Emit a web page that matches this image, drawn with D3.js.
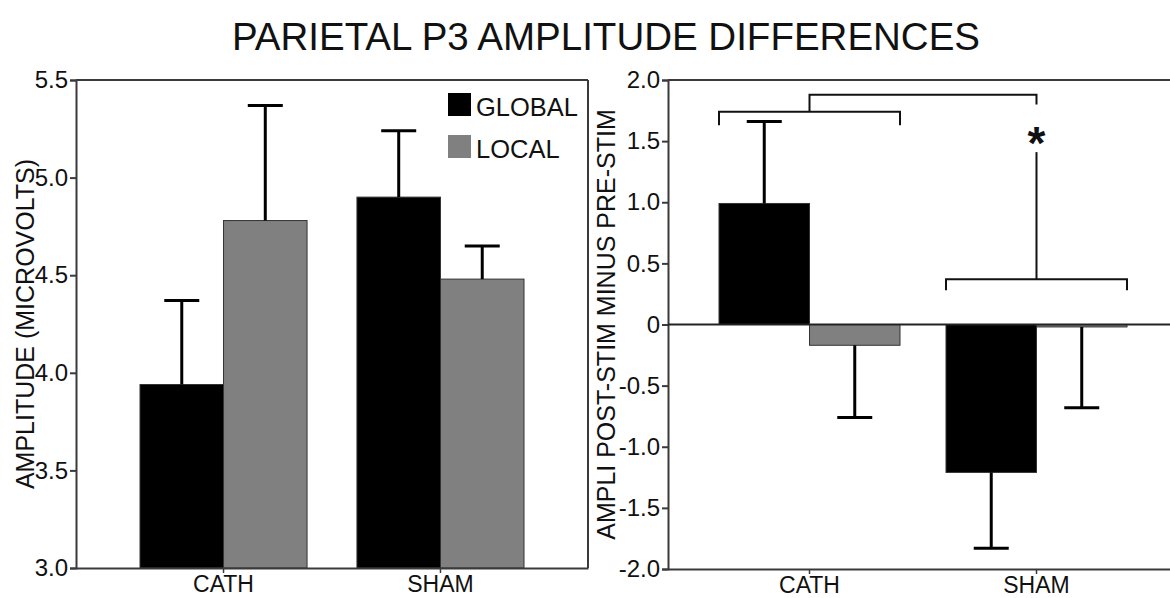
<!DOCTYPE html>
<html>
<head>
<meta charset="utf-8">
<script src="https://cdn.jsdelivr.net/npm/d3@7"></script>
<style>
  html, body { margin: 0; padding: 0; background: #fff; }
  svg { display: block; font-family: "Liberation Sans", Arial, Helvetica, sans-serif; }
</style>
</head>
<body>
<svg id="chart" width="1170" height="598"></svg>
<script>
// ---- Data ----
const categories = ["CATH", "SHAM"];
const seriesNames = ["GLOBAL", "LOCAL"];
// Left panel: amplitude (microvolts)
const ampGlobal = [3.94, 4.90];
const ampGlobalErr = [0.43, 0.34];
const ampLocal = [4.78, 4.48];
const ampLocalErr = [0.59, 0.17];
// Right panel: post-stim minus pre-stim
const diffGlobal = [0.99, -1.21];
const diffGlobalErr = [0.67, 0.62];
const diffLocal = [-0.17, -0.02];
const diffLocalErr = [0.59, 0.66];
// Tick labels
const leftTicks = ["3.0", "3.5", "4.0", "4.5", "5.0", "5.5"];
const rightTicks = ["-2.0", "-1.5", "-1.0", "-0.5", "0", "0.5", "1.0", "1.5", "2.0"];
// Significance annotation levels (data units, right panel)
const bracketLevels = [1.74, 0.37];
const bracketLegs = [1.63, 0.28];
const connectorTop = 1.88;
const connectorEnd = 1.80;
const starLevel = 1.57;
const starLineTop = 1.41;

const title = "PARIETAL P3 AMPLITUDE DIFFERENCES";
const leftYTitle = "AMPLITUDE (MICROVOLTS)";
const rightYTitle = "AMPLI POST-STIM MINUS PRE-STIM";

const colors = { GLOBAL: "#000000", LOCAL: "#808080" };
const axisColor = "#3a3a3a";
const textColor = "#111";

const svg = d3.select("#chart");
svg.append("rect").attr("width", 1170).attr("height", 598).attr("fill", "#fff");

svg.append("text")
  .attr("x", 606).attr("y", 50)
  .attr("text-anchor", "middle")
  .attr("font-size", 38.5)
  .attr("fill", textColor)
  .text(title);

function panel(opts) {
  const { x0, x1, yTop, yBot, domain, tickLabels, globalVals, globalErr, localVals, localErr,
          padInner, padOuter, yTitle, yTitleX, frameRight, zeroLine } = opts;
  const g = svg.append("g");
  const x = d3.scaleBand().domain(categories).range([x0, x1]).paddingInner(padInner).paddingOuter(padOuter);
  const xs = d3.scaleBand().domain(seriesNames).range([0, x.bandwidth()]);
  const y = d3.scaleLinear().domain(domain).range([yBot, yTop]);
  const base = zeroLine ? 0 : domain[0];

  const rows = [];
  categories.forEach((c, i) => {
    rows.push({ cat: c, s: "GLOBAL", v: globalVals[i], e: globalErr[i] });
    rows.push({ cat: c, s: "LOCAL", v: localVals[i], e: localErr[i] });
  });

  // bars
  g.selectAll("rect.bar").data(rows).join("rect")
    .attr("class", "bar")
    .attr("x", d => x(d.cat) + xs(d.s))
    .attr("width", xs.bandwidth())
    .attr("y", d => Math.min(y(d.v), y(base)))
    .attr("height", d => Math.abs(y(d.v) - y(base)))
    .attr("fill", d => colors[d.s])
    .attr("stroke", "#333")
    .attr("stroke-width", 1);

  // error bars (one-sided, away from zero)
  const capW = 35;
  rows.forEach(d => {
    const cx = x(d.cat) + xs(d.s) + xs.bandwidth() / 2;
    const end = d.v >= base ? d.v + d.e : d.v - d.e;
    g.append("line").attr("x1", cx).attr("x2", cx).attr("y1", y(d.v)).attr("y2", y(end))
      .attr("stroke", "#000").attr("stroke-width", 3);
    g.append("line").attr("x1", cx - capW / 2).attr("x2", cx + capW / 2).attr("y1", y(end)).attr("y2", y(end))
      .attr("stroke", "#000").attr("stroke-width", 3);
  });

  // y axis
  const yAxis = d3.axisLeft(y)
    .tickValues(tickLabels.map(Number))
    .tickFormat((d, i) => tickLabels[i])
    .tickSize(6).tickPadding(2);
  const ya = g.append("g").attr("transform", `translate(${x0},0)`).call(yAxis);
  ya.select(".domain").attr("stroke", axisColor).attr("stroke-width", 2);
  ya.selectAll(".tick line").attr("stroke", axisColor).attr("stroke-width", 2);
  ya.selectAll(".tick text").attr("font-size", 24).attr("fill", textColor)
    .attr("font-family", "Liberation Sans, Arial, sans-serif");

  // x axis at bottom
  const xAxis = d3.axisBottom(x).tickSize(5).tickPadding(3).tickSizeOuter(0);
  const xa = g.append("g").attr("transform", `translate(0,${yBot})`).call(xAxis);
  xa.select(".domain").attr("stroke", axisColor).attr("stroke-width", 2);
  xa.selectAll(".tick line").attr("stroke", axisColor).attr("stroke-width", 1.5);
  xa.selectAll(".tick text").attr("font-size", 23).attr("fill", textColor)
    .attr("font-family", "Liberation Sans, Arial, sans-serif");

  // top frame
  g.append("line").attr("x1", x0).attr("x2", x1).attr("y1", yTop).attr("y2", yTop)
    .attr("stroke", axisColor).attr("stroke-width", 2);
  if (frameRight) {
    g.append("line").attr("x1", x1).attr("x2", x1).attr("y1", yTop).attr("y2", yBot)
      .attr("stroke", axisColor).attr("stroke-width", 2);
  }
  if (zeroLine) {
    g.append("line").attr("x1", x0).attr("x2", x1).attr("y1", y(0)).attr("y2", y(0))
      .attr("stroke", "#222").attr("stroke-width", 2);
  }

  // y title
  g.append("text")
    .attr("transform", `translate(${yTitleX},${(yTop + yBot) / 2}) rotate(-90)`)
    .attr("text-anchor", "middle")
    .attr("font-size", 25)
    .attr("fill", textColor)
    .text(yTitle);

  return { x, xs, y };
}

const L = panel({
  x0: 76, x1: 588, yTop: 80, yBot: 568, domain: [3, 5.5], tickLabels: leftTicks,
  globalVals: ampGlobal, globalErr: ampGlobalErr, localVals: ampLocal, localErr: ampLocalErr,
  padInner: 0.23, padOuter: 0.295, yTitle: leftYTitle, yTitleX: 34, frameRight: true, zeroLine: false
});

const R = panel({
  x0: 668, x1: 1178, yTop: 80, yBot: 569, domain: [-2, 2], tickLabels: rightTicks,
  globalVals: diffGlobal, globalErr: diffGlobalErr, localVals: diffLocal, localErr: diffLocalErr,
  padInner: 0.2026, padOuter: 0.2247, yTitle: rightYTitle, yTitleX: 615, frameRight: false, zeroLine: true
});

// legend (left panel)
const legend = svg.append("g");
seriesNames.forEach((s, i) => {
  legend.append("rect").attr("x", 448).attr("y", 93 + i * 42).attr("width", 23).attr("height", 23)
    .attr("fill", colors[s]);
  legend.append("text").attr("x", 476).attr("y", 116 + i * 42).attr("font-size", 25.5)
    .attr("fill", textColor).text(s);
});

// significance annotations (right panel)
const ann = svg.append("g").attr("fill", "none").attr("stroke", "#111").attr("stroke-width", 2);
categories.forEach((c, i) => {
  const xa = R.x(c), xb = R.x(c) + R.x.bandwidth();
  const yl = R.y(bracketLevels[i]), yleg = R.y(bracketLegs[i]);
  ann.append("path").attr("d", `M${xa},${yleg}V${yl}H${xb}V${yleg}`);
});
const cCath = R.x("CATH") + R.x.bandwidth() / 2;
const cSham = R.x("SHAM") + R.x.bandwidth() / 2;
ann.append("path").attr("d",
  `M${cCath},${R.y(bracketLevels[0])}V${R.y(connectorTop)}H${cSham}V${R.y(connectorEnd)}`);
ann.append("line").attr("x1", cSham).attr("x2", cSham)
  .attr("y1", R.y(bracketLevels[1])).attr("y2", R.y(starLineTop));
svg.append("text")
  .attr("x", cSham).attr("y", R.y(starLevel) + 26)
  .attr("text-anchor", "middle")
  .attr("font-size", 46).attr("font-weight", "bold")
  .attr("fill", "#111")
  .text("*");
</script>
</body>
</html>
